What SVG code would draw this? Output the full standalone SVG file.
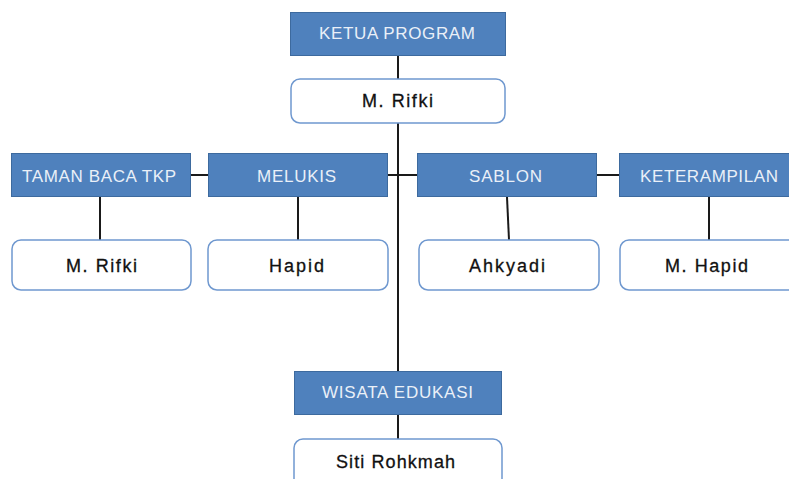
<svg xmlns="http://www.w3.org/2000/svg" width="789" height="479" viewBox="0 0 789 479">
<style>
.hdr rect{fill:#4f81bd;stroke:#3d6a9e;stroke-width:1}
.hdr text{fill:#eaf0f8;font-family:"Liberation Sans",Arial,sans-serif;font-size:17px;text-anchor:middle}
.name rect{fill:#ffffff;stroke:#6f98cf;stroke-width:1.5}
.name text{fill:#111111;font-family:"Liberation Sans",Arial,sans-serif;font-size:18px;text-anchor:middle;stroke:#111111;stroke-width:0.3}
#connectors line{stroke:#1a1a1a;stroke-width:2}
</style>
<rect width="789" height="479" fill="#ffffff"/>
<g id="connectors">
<line x1="398" y1="56" x2="398" y2="79"/>
<line x1="398" y1="123" x2="398" y2="371"/>
<line x1="398" y1="414" x2="398" y2="439"/>
<line x1="191" y1="175" x2="208" y2="175"/>
<line x1="388" y1="175" x2="417" y2="175"/>
<line x1="597" y1="175" x2="619" y2="175"/>
<line x1="100" y1="197" x2="100" y2="240"/>
<line x1="298" y1="197" x2="298" y2="240"/>
<line x1="507" y1="197" x2="509" y2="240"/>
<line x1="709" y1="197" x2="709" y2="240"/>
</g>
<g id="ketua" class="hdr"><rect x="290.5" y="12.5" width="215" height="43"/><text x="397" y="39" textLength="156">KETUA PROGRAM</text></g>
<g id="ketua-name" class="name"><rect x="291" y="79" width="214" height="44" rx="9"/><text x="397.5" y="107" textLength="71">M. Rifki</text></g>
<g id="taman" class="hdr"><rect x="11.5" y="153.5" width="179" height="43"/><text x="99" y="182" textLength="154">TAMAN BACA TKP</text></g>
<g id="taman-name" class="name"><rect x="12" y="240" width="179" height="50" rx="9"/><text x="101.5" y="272" textLength="71">M. Rifki</text></g>
<g id="melukis" class="hdr"><rect x="208.5" y="153.5" width="179" height="43"/><text x="296.5" y="182" textLength="79">MELUKIS</text></g>
<g id="melukis-name" class="name"><rect x="208" y="240" width="180" height="50" rx="9"/><text x="296.5" y="272" textLength="55">Hapid</text></g>
<g id="sablon" class="hdr"><rect x="417.5" y="153.5" width="179" height="43"/><text x="505.5" y="182" textLength="73">SABLON</text></g>
<g id="sablon-name" class="name"><rect x="419" y="240" width="180" height="50" rx="9"/><text x="507" y="272" textLength="76">Ahkyadi</text></g>
<g id="keterampilan" class="hdr"><rect x="619.5" y="153.5" width="185" height="43"/><text x="709" y="182" textLength="138">KETERAMPILAN</text></g>
<g id="keterampilan-name" class="name"><rect x="620" y="240" width="185" height="50" rx="9"/><text x="706.5" y="272" textLength="83">M. Hapid</text></g>
<g id="wisata" class="hdr"><rect x="294.5" y="371.5" width="207" height="43"/><text x="397.5" y="398" textLength="151">WISATA EDUKASI</text></g>
<g id="wisata-name" class="name"><rect x="294" y="439" width="208" height="60" rx="9"/><text x="395.5" y="468" textLength="119">Siti Rohkmah</text></g>
</svg>
